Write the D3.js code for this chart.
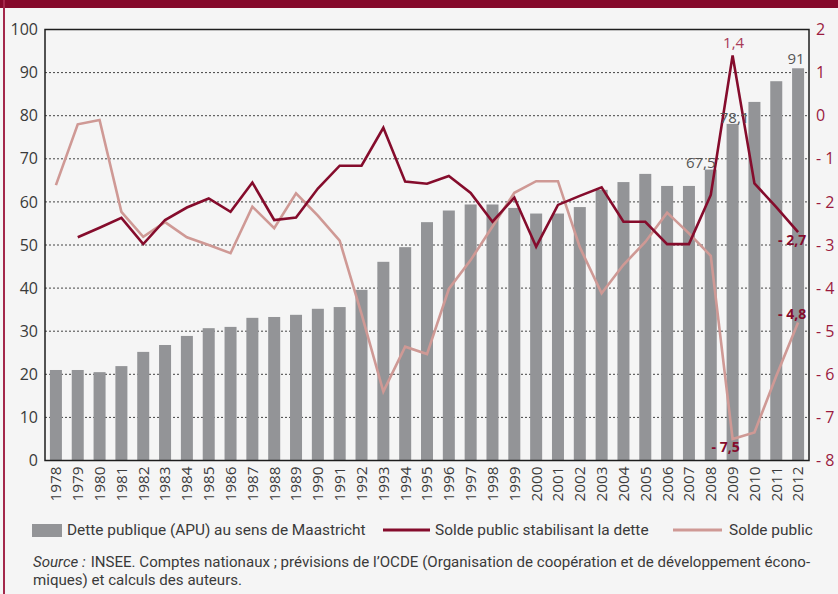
<!DOCTYPE html>
<html><head><meta charset="utf-8">
<script src="https://cdn.jsdelivr.net/npm/d3@7"></script>
<style>
html,body{margin:0;padding:0;background:#f5f5f5;}
svg{display:block;}
</style></head>
<body>
<svg id="chart" width="838" height="594"></svg>
<script>
const years = [1978,1979,1980,1981,1982,1983,1984,1985,1986,1987,1988,1989,1990,1991,1992,1993,1994,1995,1996,1997,1998,1999,2000,2001,2002,2003,2004,2005,2006,2007,2008,2009,2010,2011,2012];
const dette = [21.0,21.0,20.5,21.9,25.2,26.8,28.9,30.7,31.0,33.1,33.3,33.8,35.2,35.6,39.6,46.1,49.5,55.3,58.0,59.4,59.4,58.6,57.3,57.3,58.8,62.8,64.6,66.5,63.7,63.7,67.5,78.1,83.2,88.0,91.0];
const soldeStab = [null,-2.82,-2.6,-2.37,-2.98,-2.42,-2.13,-1.92,-2.23,-1.55,-2.42,-2.36,-1.69,-1.16,-1.16,-0.28,-1.53,-1.58,-1.40,-1.79,-2.46,-1.90,-3.04,-2.07,-1.86,-1.66,-2.46,-2.46,-2.98,-2.98,-1.84,1.4,-1.57,-2.12,-2.7];
const soldePublic = [-1.61,-0.20,-0.10,-2.23,-2.81,-2.47,-2.82,-3.0,-3.19,-2.11,-2.61,-1.80,-2.32,-2.90,-4.6,-6.40,-5.36,-5.53,-4.02,-3.35,-2.57,-1.79,-1.52,-1.52,-3.05,-4.12,-3.46,-2.93,-2.25,-2.73,-3.25,-7.5,-7.35,-6.04,-4.8];
const leftTicks = [0,10,20,30,40,50,60,70,80,90,100];
const rightTicks = [2,1,0,-1,-2,-3,-4,-5,-6,-7,-8];
const legendLabels = ["Dette publique (APU) au sens de Maastricht","Solde public stabilisant la dette","Solde public"];
const barLabels = [{year:2008,text:"67,5"},{year:2009,text:"78,1"},{year:2012,text:"91"}];
const lineLabels = [{year:2009,series:"stab",text:"1,4"},{year:2012,series:"stab",text:"- 2,7"},{year:2012,series:"pub",text:"- 4,8"},{year:2009,series:"pub",text:"- 7,5"}];
const sourceLines = ["Source\u00a0:","INSEE. Comptes nationaux ; prévisions de l’OCDE (Organisation de coopération et de développement écono-","miques) et calculs des auteurs."];

const FONT = "'Open Sans','Noto Sans',sans-serif";
const FONT2 = "Roboto,'Open Sans',sans-serif";
const C = {maroon:"#85092b", bar:"#939497", dark:"#850c2c", light:"#cf9995", lbl:"#9b1b3f", text:"#3a3a3a"};
const svg = d3.select("#chart");
const L=45, R=809, T=29.5, B=460.5;

svg.append("rect").attr("x",0).attr("y",0).attr("width",838).attr("height",594).attr("fill","#f5f5f5");
svg.append("rect").attr("x",0).attr("y",0).attr("width",838).attr("height",8).attr("fill",C.maroon);
svg.append("rect").attr("x",3).attr("y",0).attr("width",2).attr("height",594).attr("fill","#a3284a");

const x = d3.scaleBand().domain(years).range([L,R]).paddingInner(0.45).paddingOuter(0.225);
const yL = d3.scaleLinear().domain([0,100]).range([B,T]);
const yR = d3.scaleLinear().domain([-8,2]).range([B,T]);

// gridlines
svg.append("g").selectAll("line").data(leftTicks.filter(d=>d>0&&d<100)).join("line")
  .attr("x1",L).attr("x2",R).attr("y1",d=>yL(d)).attr("y2",d=>yL(d))
  .attr("stroke","#444").attr("stroke-width",1).attr("stroke-dasharray","2,2");

// bars
svg.append("g").selectAll("rect").data(years).join("rect")
  .attr("x",d=>x(d)).attr("width",x.bandwidth())
  .attr("y",(d,i)=>yL(dette[i])).attr("height",(d,i)=>B-yL(dette[i]))
  .attr("fill",C.bar);

// lines
const cx = d=>x(d)+x.bandwidth()/2;
const lineGen = arr => d3.line().defined((d,i)=>arr[i]!==null).x(d=>cx(d)).y((d,i)=>yR(arr[i]));
svg.append("path").datum(years).attr("d",lineGen(soldePublic)).attr("fill","none")
  .attr("stroke",C.light).attr("stroke-width",2.6).attr("stroke-linejoin","miter");
svg.append("path").datum(years).attr("d",lineGen(soldeStab)).attr("fill","none")
  .attr("stroke",C.dark).attr("stroke-width",2.6).attr("stroke-linejoin","miter");

// frame
svg.append("rect").attr("x",L).attr("y",T).attr("width",R-L).attr("height",B-T)
  .attr("fill","none").attr("stroke","#1e1e1e").attr("stroke-width",1.5);

// left axis
const axL = svg.append("g").attr("transform",`translate(${L},0)`)
  .call(d3.axisLeft(yL).tickValues(leftTicks).tickSize(0).tickPadding(7));
axL.select(".domain").remove();
axL.selectAll("text").attr("font-family",FONT).attr("font-size",16).attr("fill",C.text);

// right axis
const axR = svg.append("g").attr("transform",`translate(${R},0)`)
  .call(d3.axisRight(yR).tickValues(rightTicks).tickSize(0).tickPadding(7)
    .tickFormat(d=> d<0 ? "- "+Math.abs(d) : String(d)));
axR.select(".domain").remove();
axR.selectAll("text").attr("font-family",FONT).attr("font-size",16).attr("fill",C.lbl);

// x axis
const axB = svg.append("g").attr("transform",`translate(0,${B})`)
  .call(d3.axisBottom(x).tickSize(0).tickPadding(0));
axB.select(".domain").remove();
axB.selectAll("text").attr("font-family",FONT).attr("font-size",15).attr("fill",C.text)
  .attr("transform","rotate(-90)").attr("text-anchor","end").attr("x",-6).attr("y",0).attr("dy","0.36em")
  .attr("textLength",35).attr("lengthAdjust","spacingAndGlyphs");

// bar labels
const blp = {"67,5":{dx:-10,dy:-2},"78,1":{dx:2,dy:-1},"91":{dx:-2,dy:-4}};
svg.append("g").selectAll("text").data(barLabels).join("text")
  .attr("x",d=>cx(d.year)+blp[d.text].dx).attr("y",d=>yL(dette[years.indexOf(d.year)])+blp[d.text].dy)
  .attr("text-anchor","middle").attr("font-family",FONT).attr("font-size",15).attr("fill","#555")
  .text(d=>d.text);

// line labels
const lp = {
  "1,4":{dx:1,dy:-7,bold:false},
  "- 2,7":{dx:-6,dy:13,bold:true},
  "- 4,8":{dx:-6,dy:-4,bold:true},
  "- 7,5":{dx:-7,dy:13,bold:true}
};
svg.append("g").selectAll("text").data(lineLabels).join("text")
  .attr("x",d=>cx(d.year)+lp[d.text].dx)
  .attr("y",d=>{const arr=d.series==="stab"?soldeStab:soldePublic; return yR(arr[years.indexOf(d.year)])+lp[d.text].dy;})
  .attr("text-anchor","middle")
  .attr("font-family",FONT).attr("font-size",d=>lp[d.text].bold?14:15).attr("font-weight",d=>lp[d.text].bold?"bold":"normal")
  .attr("fill",d=>lp[d.text].bold?C.dark:"#a83a57")
  .text(d=>d.text);

// legend (font size chosen so the first label spans the reference width)
const lg = svg.append("g").attr("font-family",FONT2).attr("fill",C.text);
lg.append("rect").attr("x",32).attr("y",524).attr("width",30).attr("height",13).attr("fill",C.bar);
const t0 = lg.append("text").attr("font-size",16).attr("x",67).attr("y",535).text(legendLabels[0]);
const fsLeg = 16 * 299 / t0.node().getComputedTextLength();
t0.attr("font-size",fsLeg);
lg.append("line").attr("x1",383).attr("x2",430).attr("y1",530).attr("y2",530).attr("stroke",C.dark).attr("stroke-width",3);
lg.append("text").attr("font-size",fsLeg).attr("x",435).attr("y",535).text(legendLabels[1]);
lg.append("line").attr("x1",673).attr("x2",722).attr("y1",530).attr("y2",530).attr("stroke",C.light).attr("stroke-width",3);
lg.append("text").attr("font-size",fsLeg).attr("x",729).attr("y",535).text(legendLabels[2]);

// source
const src = svg.append("g").attr("font-family",FONT2).attr("fill",C.text);
const sA = src.append("text").attr("font-style","italic").attr("font-size",15).text(sourceLines[0]);
const sB = src.append("text").attr("font-size",15).text(sourceLines[1]);
const gap = 5;
const natTot = sA.node().getComputedTextLength() + sB.node().getComputedTextLength() + gap;
const fsSrc = 15 * 778 / natTot;
sA.attr("font-size",fsSrc).attr("x",33).attr("y",567);
const wA = sA.node().getComputedTextLength();
sB.attr("font-size",fsSrc).attr("x",33 + wA + gap*fsSrc/15).attr("y",567);
src.append("text").attr("font-size",fsSrc).attr("x",33).attr("y",585).text(sourceLines[2]);
</script>
</body></html>
